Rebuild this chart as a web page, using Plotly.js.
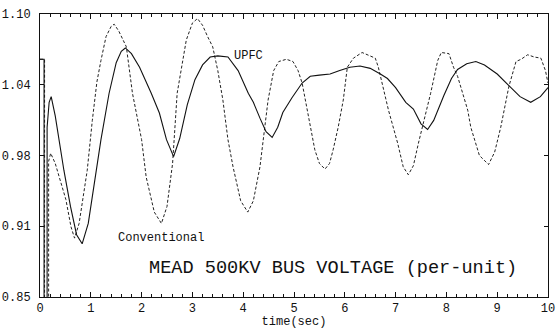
<!DOCTYPE html>
<html>
<head>
<meta charset="utf-8">
<script src="https://cdn.plot.ly/plotly-3.0.1.min.js"></script>
<style>html,body{margin:0;padding:0;background:#fff;}#chart{width:557px;height:329px;}</style>
</head>
<body>
<div id="chart"></div>
<script>
// Time (s) and voltage (p.u.)
const upfcTime = [0,0.08,0.08,0.14,0.14,0.18,0.22,0.3,0.47,0.6,0.72,0.83,0.95,1.1,1.2,1.36,1.5,1.6,1.68,1.8,1.96,2.19,2.35,2.49,2.63,2.75,2.9,3.05,3.2,3.35,3.5,3.7,3.9,4.1,4.2,4.33,4.45,4.57,4.68,4.78,4.96,5.16,5.32,5.5,5.71,5.9,6.1,6.3,6.5,6.7,6.84,7.0,7.2,7.35,7.5,7.63,7.75,7.95,8.1,8.22,8.4,8.58,8.75,9.0,9.23,9.45,9.66,9.85,10];
const upfcVolt = [1.06,1.06,0.80,0.80,1.00,1.022,1.027,1.01,0.962,0.93,0.905,0.897,0.915,0.962,0.989,1.030,1.057,1.067,1.070,1.065,1.053,1.030,1.0125,0.989,0.974,0.99,1.02,1.042,1.055,1.062,1.063,1.062,1.05,1.03,1.022,1.008,0.996,0.991,1.0,1.013,1.026,1.039,1.045,1.046,1.047,1.05,1.053,1.054,1.052,1.047,1.043,1.035,1.022,1.016,1.003,0.998,1.006,1.028,1.043,1.051,1.056,1.058,1.055,1.047,1.037,1.027,1.022,1.027,1.035];

const convTime = [0,0.09,0.09,0.17,0.17,0.21,0.3,0.51,0.61,0.68,0.77,0.93,1.03,1.12,1.2,1.3,1.4,1.46,1.55,1.7,1.82,2.0,2.09,2.25,2.39,2.5,2.61,2.7,2.88,3.0,3.1,3.2,3.3,3.4,3.5,3.6,3.7,3.8,3.95,4.09,4.2,4.33,4.49,4.6,4.7,4.85,4.98,5.08,5.16,5.22,5.32,5.41,5.5,5.61,5.7,5.77,5.87,5.97,6.05,6.17,6.34,6.44,6.6,6.66,6.76,6.86,7.04,7.15,7.25,7.35,7.45,7.69,7.83,7.9,8.05,8.14,8.22,8.42,8.48,8.65,8.83,8.95,9.07,9.23,9.37,9.47,9.6,9.73,9.86,9.95,10];
const convVolt = [1.06,1.06,0.80,0.80,0.97,0.977,0.968,0.936,0.912,0.902,0.915,0.962,1.006,1.04,1.059,1.08,1.089,1.091,1.085,1.071,1.030,0.989,0.956,0.925,0.915,0.93,0.968,1.030,1.077,1.092,1.096,1.09,1.080,1.071,1.05,1.024,0.989,0.965,0.935,0.925,0.935,0.965,1.024,1.050,1.058,1.060,1.058,1.05,1.039,1.024,1.0,0.98,0.968,0.963,0.968,0.98,1.0,1.024,1.053,1.061,1.066,1.064,1.061,1.053,1.035,1.015,0.986,0.965,0.958,0.966,0.986,1.030,1.059,1.066,1.065,1.053,1.045,1.015,1.0,0.975,0.967,0.978,1.0,1.036,1.058,1.06,1.064,1.062,1.061,1.05,1.039];

const yTickVals = [0.85,0.9125,0.975,1.0375,1.10];
const yTickText = ["0.85","0.91","0.98","1.04","1.10"];
const xTickVals = [0,1,2,3,4,5,6,7,8,9,10];
const xTickText = ["0","1","2","3","4","5","6","7","8","9","10"];

const MONO = "Liberation Mono, DejaVu Sans Mono, monospace";

const traces = [
  {x: convTime, y: convVolt, mode: 'lines', name: 'Conventional',
   line: {color: '#222', width: 1, dash: '3px,2px'}},
  {x: upfcTime, y: upfcVolt, mode: 'lines', name: 'UPFC',
   line: {color: '#111', width: 1.1}}
];

const layout = {
  width: 557, height: 329,
  margin: {l: 40, r: 9, t: 14, b: 32},
  paper_bgcolor: '#fff', plot_bgcolor: '#fff',
  showlegend: false,
  font: {family: MONO, size: 12, color: '#111'},
  xaxis: {
    range: [0, 10], tickvals: xTickVals, ticktext: xTickText,
    ticks: 'inside', ticklen: 5, tickwidth: 1, tickcolor: '#111',
    minor: {dtick: 0.2, ticks: 'inside', ticklen: 3, tickcolor: '#111'},
    showline: true, linecolor: '#111', linewidth: 1, mirror: 'allticks',
    showgrid: false, zeroline: false,
    tickfont: {family: MONO, size: 12, color: '#111'},
    title: {text: 'time(sec)', font: {family: MONO, size: 12, color: '#111'}, standoff: 2}
  },
  yaxis: {
    range: [0.85, 1.10], tickvals: yTickVals, ticktext: yTickText,
    ticks: 'inside', ticklen: 4, tickwidth: 1, tickcolor: '#111',
    showline: true, linecolor: '#111', linewidth: 1, mirror: 'allticks',
    showgrid: false, zeroline: false, ticklabelstandoff: 6,
    tickfont: {family: MONO, size: 12, color: '#111'}
  },
  annotations: [
    {x: 3.77, y: 1.063, xref: 'x', yref: 'y', text: 'UPFC', showarrow: false,
     xanchor: 'left', yanchor: 'middle', font: {family: MONO, size: 12, color: '#111'}},
    {x: 1.5, y: 0.902, xref: 'x', yref: 'y', text: 'Conventional', showarrow: false,
     xanchor: 'left', yanchor: 'middle', font: {family: MONO, size: 12, color: '#111'}},
    {x: 2.11, y: 0.8756, xref: 'x', yref: 'y', text: 'MEAD 500KV BUS VOLTAGE (per-unit)', showarrow: false,
     xanchor: 'left', yanchor: 'middle', font: {family: MONO, size: 18.6, color: '#111'}}
  ]
};

Plotly.newPlot('chart', traces, layout, {displayModeBar: false, staticPlot: true});
</script>
</body>
</html>
